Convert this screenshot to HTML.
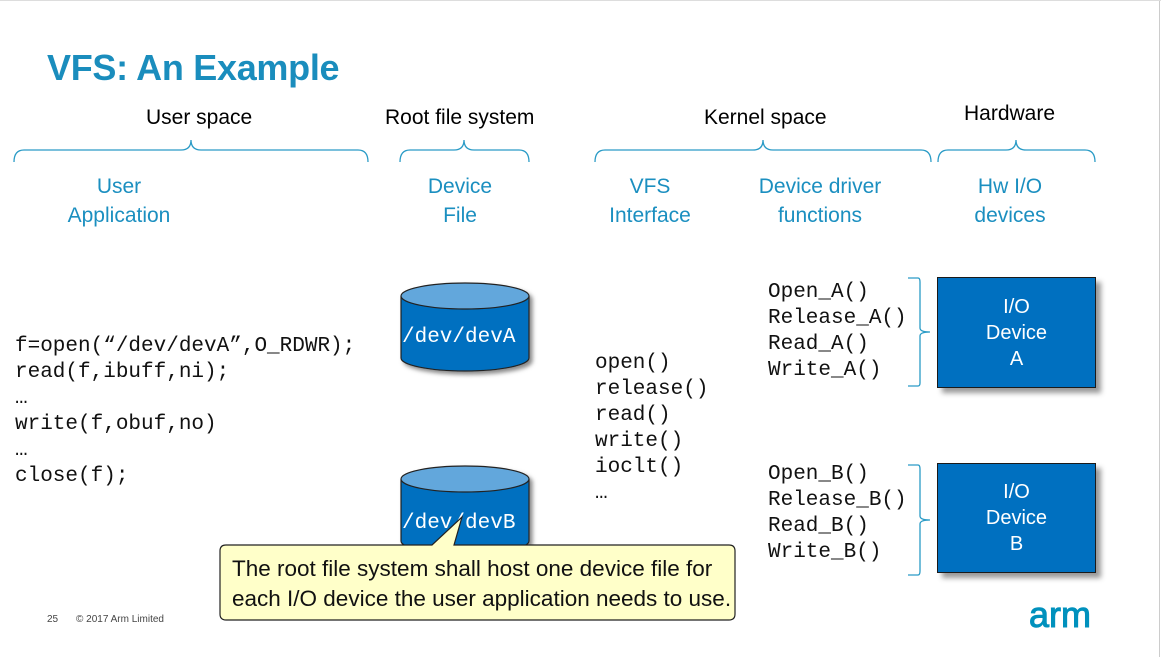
<!DOCTYPE html>
<html><head><meta charset="utf-8"><style>
body{margin:0;width:1161px;height:657px;background:#fff;position:relative;overflow:hidden;font-family:"Liberation Sans",sans-serif}
.a{position:absolute;white-space:nowrap}
.h{font-size:20px;color:#000}
.b{font-size:20px;color:#1b8fc0;text-align:center;line-height:29px}
.m{font-family:"Liberation Mono",monospace;font-size:21px;line-height:26px;color:#111}
.dev{position:absolute;background:#0070c0;border:1.5px solid #1a1a1a;box-shadow:5px 5px 5px #999;color:#fff;font-size:20px;text-align:center;line-height:26px}
</style></head><body>
<div class="a" style="right:1px;top:0;width:1px;height:657px;background:#ccc"></div>
<div class="a" style="left:0;top:0;width:1161px;height:1px;background:#ddd"></div>
<div class="a" style="left:47px;top:47px;font-size:36px;font-weight:bold;color:#1a8dbd;letter-spacing:-0.3px">VFS: An Example</div>
<div class="a h" style="left:146px;top:106px;font-size:21px">User space</div>
<div class="a h" style="left:385px;top:106px;font-size:21px">Root file system</div>
<div class="a h" style="left:704px;top:106px;font-size:21px">Kernel space</div>
<div class="a h" style="left:964px;top:102px;font-size:21px">Hardware</div>
<svg class="a" style="left:0;top:0" width="1161" height="657" fill="none" stroke="#2a9bc6" stroke-width="1.3">
<path d="M14 162 Q14 150 24 150 L181 150 Q191 150 191 140 Q191 150 201 150 L358 150 Q368 150 368 162"/>
<path d="M400 162 Q400 150 410 150 L454 150 Q464 150 464 140 Q464 150 474 150 L519 150 Q529 150 529 162"/>
<path d="M595 162 Q595 150 605 150 L753 150 Q763 150 763 140 Q763 150 773 150 L921 150 Q931 150 931 162"/>
<path d="M938 162 Q938 150 948 150 L1006 150 Q1016 150 1016 140 Q1016 150 1026 150 L1085 150 Q1095 150 1095 162"/>
<path d="M908 278 L918 278 Q920 278 920 282 L920 328 Q920 332 930 332 Q920 332 920 336 L920 383 Q920 386 918 386 L908 386"/>
<path d="M908 465 L918 465 Q920 465 920 469 L920 516 Q920 520 930 520 Q920 520 920 524 L920 571 Q920 575 918 575 L908 575"/>
</svg>
<div class="a b" style="left:55px;top:172px;width:128px;font-size:21px">User<br>Application</div>
<div class="a b" style="left:410px;top:172px;width:100px;font-size:21px">Device<br>File</div>
<div class="a b" style="left:590px;top:172px;width:120px;font-size:21px">VFS<br>Interface</div>
<div class="a b" style="left:740px;top:172px;width:160px;font-size:21px">Device driver<br>functions</div>
<div class="a b" style="left:960px;top:172px;width:100px;font-size:21px">Hw I/O<br>devices</div>
<div class="a m" style="left:15px;top:334px">f=open(“/dev/devA”,O_RDWR);<br>read(f,ibuff,ni);<br>…<br>write(f,obuf,no)<br>…<br>close(f);</div>
<svg class="a" style="left:395px;top:275px" width="150" height="300">
<defs><filter id="s"><feDropShadow dx="3" dy="3" stdDeviation="2" flood-color="#888"/></filter></defs>
<g filter="url(#s)" stroke="#222" stroke-width="1.2">
<path d="M6 21 L6 83 A64 13 0 0 0 134 83 L134 21" fill="#0070c0"/>
<ellipse cx="70" cy="21" rx="64" ry="13" fill="#62a7dc"/>
<path d="M6 204 L6 266 A64 13 0 0 0 134 266 L134 204" fill="#0070c0"/>
<ellipse cx="70" cy="204" rx="64" ry="13" fill="#62a7dc"/>
</g></svg>
<div class="a m" style="left:402px;top:325px;color:#fff">/dev/devA</div>
<div class="a m" style="left:402px;top:511px;color:#fff">/dev/devB</div>
<div class="a m" style="left:595px;top:351px">open()<br>release()<br>read()<br>write()<br>ioclt()<br>…</div>
<div class="a m" style="left:768px;top:280px">Open_A()<br>Release_A()<br>Read_A()<br>Write_A()</div>
<div class="a m" style="left:768px;top:462px">Open_B()<br>Release_B()<br>Read_B()<br>Write_B()</div>
<div class="dev" style="left:937px;top:277px;width:157px;height:109px"><div style="padding-top:16px">I/O<br>Device<br>A</div></div>
<div class="dev" style="left:937px;top:463px;width:157px;height:108px"><div style="padding-top:15px">I/O<br>Device<br>B</div></div>
<svg class="a" style="left:215px;top:510px" width="530" height="120">
<path d="M11 35 L217 35 L247 7 L239 35 L514 35 Q520 35 520 41 L520 104 Q520 110 514 110 L11 110 Q5 110 5 104 L5 41 Q5 35 11 35Z" fill="#ffffc9" stroke="#222" stroke-width="1.2"/>
</svg>
<div class="a" style="left:232px;top:554px;font-size:22.5px;line-height:30px;color:#111">The root file system shall host one device file for<br>each I/O device the user application needs to use.</div>
<div class="a" style="left:47px;top:614px;font-size:10px;color:#444">25</div>
<div class="a" style="left:76px;top:614px;font-size:10px;color:#444">© 2017 Arm Limited</div>
<div class="a" style="left:1029px;top:594px;font-size:36px;color:#0091bd;letter-spacing:0px;-webkit-text-stroke:1px #0091bd">arm</div>
</body></html>
